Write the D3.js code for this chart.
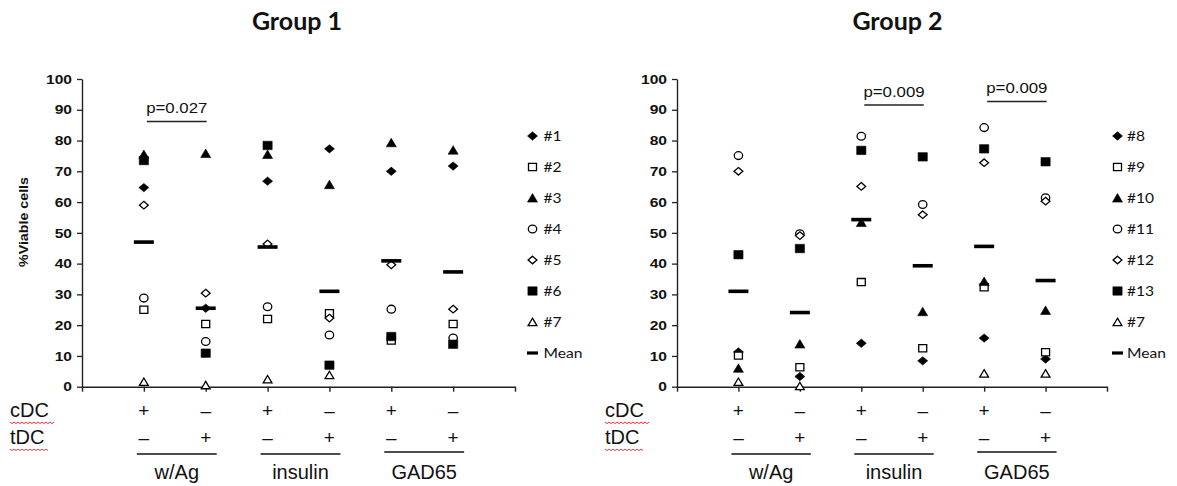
<!DOCTYPE html>
<html><head><meta charset="utf-8">
<script src="https://cdn.jsdelivr.net/npm/d3@7"></script>
<style>body{margin:0;background:#fff}svg{display:block}</style>
</head><body><svg id="c" width="1177" height="486"></svg>
<script>
// ---------------- DATA ----------------
const categories = ["w/Ag cDC+", "w/Ag tDC+", "insulin cDC+", "insulin tDC+", "GAD65 cDC+", "GAD65 tDC+"];
const cdcSigns = ["+", "\u2013", "+", "\u2013", "+", "\u2013"];
const tdcSigns = ["\u2013", "+", "\u2013", "+", "\u2013", "+"];
const rowLabels = ["cDC", "tDC"];
const antigenGroups = ["w/Ag", "insulin", "GAD65"];
const yTickValues = [0, 10, 20, 30, 40, 50, 60, 70, 80, 90, 100];
const yAxisTitle = "%Viable cells";
const titles = ["Group 1", "Group 2"];

// Group 1 donors
const g1Names = ["#1", "#2", "#3", "#4", "#5", "#6", "#7"];
const g1_d1 = [64.7, 25.5, 66.8, 77.3, 70.0, 71.7];
const g1_d2 = [25.0, 20.4, 22.0, 23.9, 15.0, 20.4];
const g1_d3 = [75.5, 75.8, 75.5, 65.7, 79.3, 76.9];
const g1_d4 = [28.8, 14.7, 26.0, 16.8, 25.2, 15.8];
const g1_d5 = [59.0, 30.4, 46.4, 22.3, 39.6, 25.2];
const g1_d6 = [73.5, 10.9, 78.4, 7.0, 16.3, 13.8];
const g1_d7 = [1.6, 0.5, 2.4, 3.8, null, null];
const g1Mean = [47.0, 25.5, 45.4, 31.0, 40.9, 37.3];
const g1PLabels = ["p=0.027"];
const g1PPairs = [[0, 1]];

// Group 2 donors
const g2Names = ["#8", "#9", "#10", "#11", "#12", "#13", "#7"];
const g2_d8 = [11.3, 3.3, 14.1, 8.4, 15.8, 9.0];
const g2_d9 = [10.1, 6.3, 34.0, 12.5, 32.3, 11.2];
const g2_d10 = [6.0, 13.9, 53.4, 24.4, 34.2, 24.8];
const g2_d11 = [75.1, 49.7, 81.4, 59.2, 84.2, 61.4];
const g2_d12 = [70.0, 49.1, 65.1, 55.9, 72.8, 60.3];
const g2_d13 = [42.9, 44.9, 76.8, 74.7, 77.3, 73.1];
const g2_d7 = [1.6, 0.2, null, null, 4.3, 4.3];
const g2Mean = [31.0, 24.1, 54.3, 39.3, 45.6, 34.5];
const g2PLabels = ["p=0.009", "p=0.009"];
const g2PPairs = [[2, 3], [4, 5]];

// ---------------- DRAWING ----------------
const svg = d3.select("#c");
const SX = 1.2; // horizontal stretch of chart text in the reference
const ARIAL = "'Liberation Sans', Arial, sans-serif";
const CAL = "Lato, 'Open Sans', sans-serif";
const INK = "#111";

const markerStyles = [
  {shape: "diamond", filled: true},
  {shape: "square", filled: false},
  {shape: "triangle", filled: true},
  {shape: "circle", filled: false},
  {shape: "diamond", filled: false},
  {shape: "square", filled: true},
  {shape: "triangle", filled: false}
];

const y = d3.scaleLinear().domain([0, 100]).range([386.7, 79]);

function drawMarker(g, style, cx, cy) {
  const f = style.filled;
  const fill = f ? "#000" : "#fff";
  const sw = f ? 0.6 : 1.3;
  let el;
  if (style.shape === "circle") {
    el = g.append("ellipse").attr("cx", cx).attr("cy", cy).attr("rx", 4.2).attr("ry", 3.9);
  } else {
    let d;
    if (style.shape === "diamond") d = f ? "M0,-4.2L5,0L0,4.2L-5,0Z" : "M0,-3.8L4.4,0L0,3.8L-4.4,0Z";
    else if (style.shape === "square") d = f ? "M-4.6,-4.2H4.6V4.2H-4.6Z" : "M-4,-3.6H4V3.6H-4Z";
    else d = f ? "M0,-4.4L5,4.1H-5Z" : "M0,-3.8L4.4,3.6H-4.4Z";
    el = g.append("path").attr("d", d).attr("transform", `translate(${cx},${cy})`);
  }
  el.attr("fill", fill).attr("stroke", "#000").attr("stroke-width", sw).attr("stroke-linejoin", "miter");
}

function stretchText(g, x, y0, txt, opt) {
  return g.append("text")
    .attr("transform", `translate(${x},${y0}) scale(${opt.sx || 1},1)`)
    .attr("text-anchor", opt.anchor || "start")
    .attr("font-family", opt.family || ARIAL)
    .attr("font-size", opt.size)
    .attr("font-weight", opt.weight || "normal")
    .attr("fill", opt.fill || INK)
    .text(txt);
}

const panels = [
  {x0: 82, x1: 515, names: g1Names, series: [g1_d1, g1_d2, g1_d3, g1_d4, g1_d5, g1_d6, g1_d7], mean: g1Mean,
   title: titles[0], titleX: 297, legX: 532.5, legTextX: 543.5, pLabels: g1PLabels, pPairs: g1PPairs,
   pLineY: [121.5], rowX: 10, yTitle: true},
  {x0: 677, x1: 1107, names: g2Names, series: [g2_d8, g2_d9, g2_d10, g2_d11, g2_d12, g2_d13, g2_d7], mean: g2Mean,
   title: titles[1], titleX: 897.5, legX: 1117.5, legTextX: 1127, pLabels: g2PLabels, pPairs: g2PPairs,
   pLineY: [105, 101.5], rowX: 605, yTitle: false}
];

panels.forEach(p => {
  const g = svg.append("g");
  const x = d3.scaleLinear().domain([0, categories.length + 1]).range([p.x0, p.x1]);
  const xc = i => x(i + 1);

  // title
  g.append("text").attr("x", p.titleX).attr("y", 30).attr("text-anchor", "middle")
    .attr("font-family", CAL).attr("font-weight", "bold").attr("font-size", 25)
    .attr("fill", "#111").text(p.title);

  // y axis
  const ya = g.append("g").attr("transform", `translate(${p.x0},0)`)
    .call(d3.axisLeft(y).tickValues(yTickValues).tickSize(5).tickSizeOuter(0).tickPadding(5));
  ya.select(".domain").attr("stroke", "#222").attr("stroke-width", 1.4);
  ya.selectAll(".tick line").attr("stroke", "#222").attr("stroke-width", 1.3);
  ya.selectAll(".tick text")
    .attr("x", -10 / SX).attr("transform", `scale(${SX},1)`)
    .attr("font-family", ARIAL).attr("font-size", 13).attr("font-weight", "bold").attr("fill", INK);

  // x axis
  const xa = g.append("g").attr("transform", `translate(0,${y(0)})`)
    .call(d3.axisBottom(x).tickValues(d3.range(0, categories.length + 2)).tickSize(5).tickSizeOuter(0).tickFormat(""));
  xa.select(".domain").attr("stroke", "#222").attr("stroke-width", 1.6);
  xa.selectAll(".tick line").attr("stroke", "#222").attr("stroke-width", 1.4);

  if (p.yTitle) {
    g.append("text").attr("transform", `translate(28,222) rotate(-90)`).attr("text-anchor", "middle")
      .attr("font-family", ARIAL).attr("font-weight", "bold").attr("font-size", 13)
      .attr("textLength", 90).attr("lengthAdjust", "spacingAndGlyphs")
      .attr("fill", INK).text(yAxisTitle);
  }

  // points (legend order; later series on top)
  p.series.forEach((vals, si) => {
    vals.forEach((v, i) => {
      if (v === null || v === undefined) return;
      drawMarker(g, markerStyles[si], xc(i), y(v));
    });
  });
  // means
  g.selectAll(null).data(p.mean).join("rect")
    .attr("x", (d, i) => xc(i) - 10).attr("y", d => y(d) - 1.8)
    .attr("width", 20).attr("height", 3.6).attr("fill", "#000");

  // p-value annotations
  p.pPairs.forEach((pair, k) => {
    const xa0 = xc(pair[0]) + 3, xa1 = xc(pair[1]) + 1;
    const ly = p.pLineY[k];
    g.append("line").attr("x1", xa0).attr("x2", xa1).attr("y1", ly).attr("y2", ly)
      .attr("stroke", "#222").attr("stroke-width", 1.3);
    stretchText(g, (xa0 + xa1) / 2, ly - 8.3, p.pLabels[k], {sx: SX, anchor: "middle", size: 14});
  });

  // legend
  const legendItems = p.names.concat(["Mean"]);
  legendItems.forEach((name, k) => {
    const ry = 136 + 31 * k;
    if (k < p.names.length) drawMarker(g, markerStyles[k], p.legX, ry);
    else g.append("rect").attr("x", p.legX - 5.5).attr("y", ry - 1.6).attr("width", 11).attr("height", 3.2).attr("fill", "#000");
    stretchText(g, p.legTextX, ry + 4.6, name, {sx: SX, size: 13, family: CAL});
  });

  // condition rows
  const rowY = [417, 444];
  rowLabels.forEach((lab, r) => {
    g.append("text").attr("x", p.rowX).attr("y", rowY[r]).attr("font-family", ARIAL)
      .attr("font-size", 20).attr("fill", INK).text(lab);
    const wl = r === 0 ? 45 : 38;
    const ly = rowY[r] + 5;
    let d = `M${p.rowX},${ly}`;
    for (let t = 0; t <= wl; t += 2) d += `L${p.rowX + t},${ly + ((t / 2) % 2 === 0 ? 0 : 1.6)}`;
    g.append("path").attr("d", d).attr("fill", "none").attr("stroke", "#e52020").attr("stroke-width", 0.9);
  });
  [cdcSigns, tdcSigns].forEach((signs, r) => {
    g.selectAll(null).data(signs).join("text")
      .attr("x", (d, i) => xc(i)).attr("y", rowY[r]).attr("text-anchor", "middle")
      .attr("font-family", ARIAL).attr("font-size", 19).attr("fill", INK).text(d => d);
  });
  antigenGroups.forEach((lab, k) => {
    const a = xc(2 * k), b = xc(2 * k + 1);
    const ly = k === 2 ? 452 : 454;
    g.append("line").attr("x1", a - 7).attr("x2", b + 11).attr("y1", ly).attr("y2", ly)
      .attr("stroke", "#111").attr("stroke-width", 1.6);
    g.append("text").attr("x", (a + b) / 2 + 2).attr("y", 479).attr("text-anchor", "middle")
      .attr("font-family", ARIAL).attr("font-size", 20).attr("fill", INK).text(lab);
  });
});
</script>
</body></html>
